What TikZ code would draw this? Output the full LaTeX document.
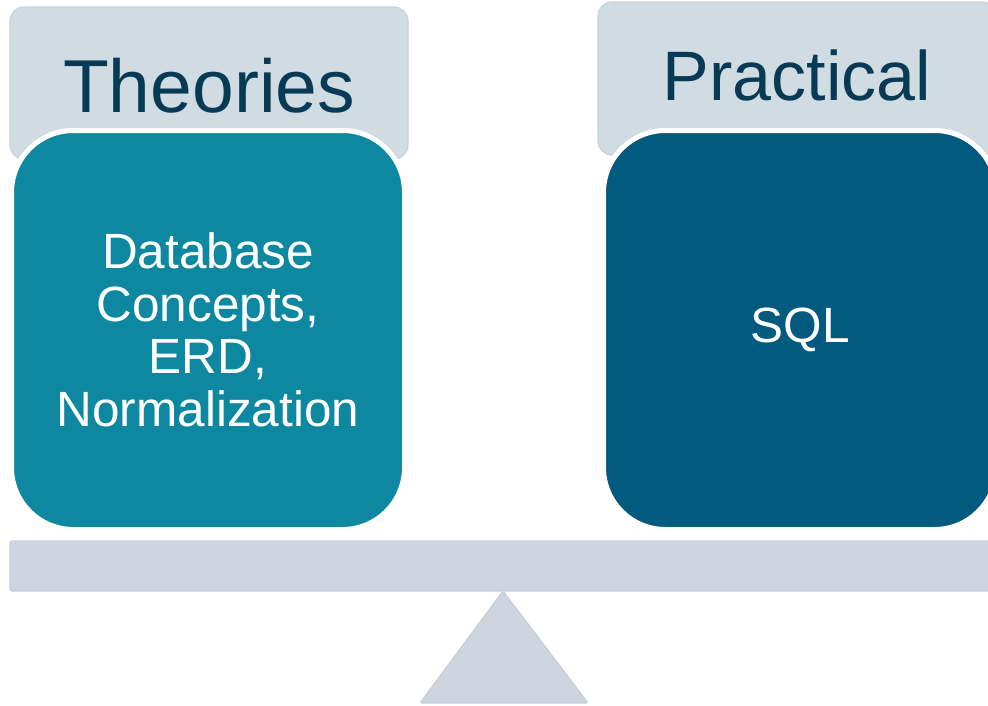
\documentclass[tikz,border=0pt]{standalone}
\usepackage{fontspec}
\setmainfont{Liberation Sans}
\definecolor{tabgray}{HTML}{D1DBE2}
\definecolor{tabedge}{HTML}{C8D2DA}
\definecolor{tealbox}{HTML}{0E88A0}
\definecolor{navybox}{HTML}{025A7E}
\definecolor{titleink}{HTML}{073A55}
\definecolor{beamgray}{HTML}{CFD5DE}
\definecolor{beamedge}{HTML}{C7CED8}
\begin{document}
\begin{tikzpicture}[x=1pt,y=-1pt,
  tab/.style={fill=tabgray, draw=tabedge, line width=1.2pt, rounded corners=14pt,
    inner sep=0pt, outer sep=0pt, anchor=north west},
  title/.style={text=titleink, anchor=base, inner sep=0pt},
  pan/.style={draw=white, line width=5pt, rounded corners=62pt, inner sep=0pt,
    outer sep=0pt, anchor=north west, minimum width=393pt, minimum height=399pt,
    text=white, align=center, font=\fontsize{49.5pt}{52.5pt}\selectfont},
  support/.style={fill=beamgray, draw=beamedge, line width=1.2pt}]
\useasboundingbox (0,0) rectangle (988,705);

% header tabs
\node[tab, minimum width=398pt, minimum height=152pt] (tabL) at (10,7) {};
\node[tab, minimum width=398pt, minimum height=153pt] (tabR) at (598,2) {};
\node[title, font=\fontsize{75pt}{78pt}\selectfont] (tL) at (209,112) {Theories};
\node[title, font=\fontsize{70pt}{74pt}\selectfont] (tR) at (797,100) {Practical};

% pans of the scale
\node[pan, fill=tealbox] (boxL) at (11.5,130.5)
  {Database\\Concepts,\\ERD,\\Normalization};
\node[pan, fill=navybox] (boxR) at (603.5,130.5) {SQL};

% beam and fulcrum
\node[support, rounded corners=2pt, inner sep=0pt, outer sep=0pt, anchor=north west,
  minimum width=990pt, minimum height=50pt] (beam) at (10,541) {};
\coordinate (apex) at (503,591);
\coordinate (baseL) at (420,703);
\coordinate (baseR) at (588,703);
\draw[support, rounded corners=2pt] (apex) -- (baseR) -- (baseL) -- cycle;
\end{tikzpicture}
\end{document}
